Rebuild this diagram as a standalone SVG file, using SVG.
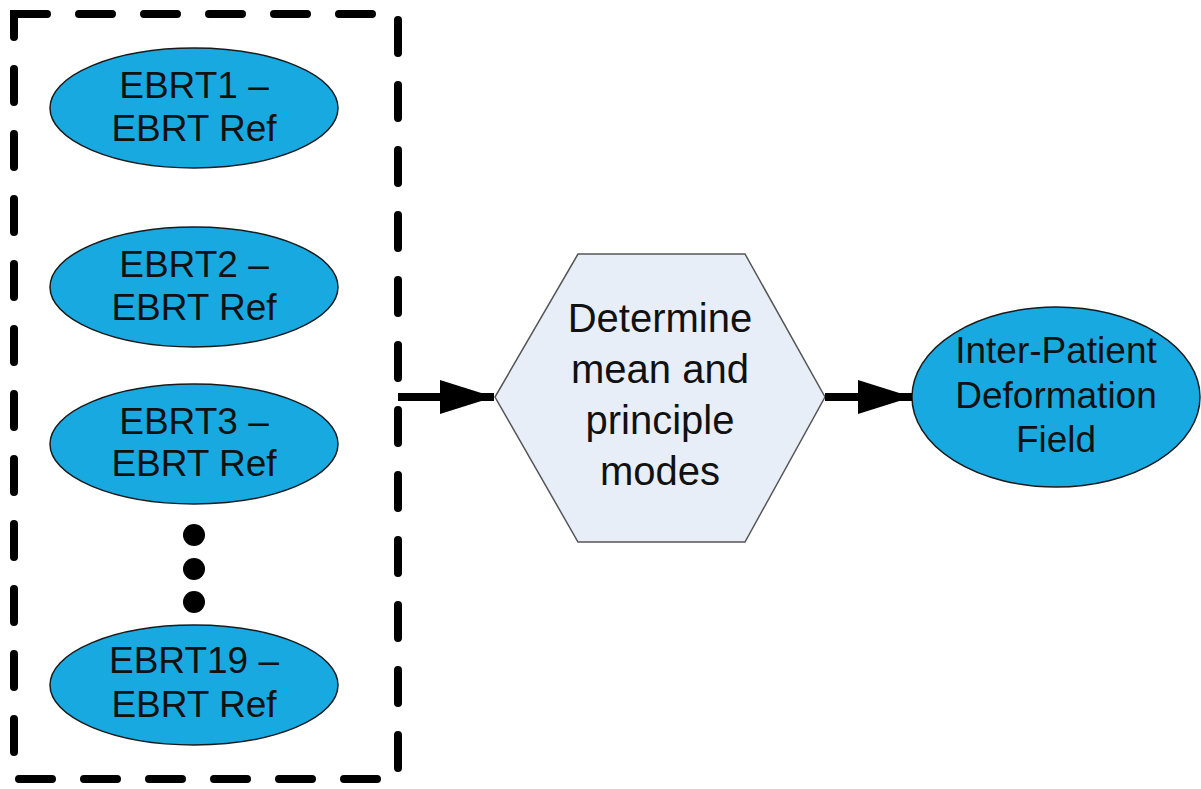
<svg xmlns="http://www.w3.org/2000/svg" width="1201" height="789" viewBox="0 0 1201 789">
  <style>
    .ell { fill: #19a9e1; stroke: #1a1a1a; stroke-width: 1.5; }
    .hex { fill: #e8eef8; stroke: #555555; stroke-width: 1.5; }
    .lbl { font-family: "Liberation Sans", Arial, sans-serif; font-size: 37px; fill: #111111; text-anchor: middle; }
    .big { font-size: 40px; }
    .conn { stroke: #000000; stroke-width: 8; fill: none; }
    .frame { fill: none; stroke: #000000; stroke-width: 8; stroke-linecap: round; stroke-dasharray: 33 32; }
  </style>
  <defs>
    <marker id="arrow" viewBox="0 0 54 34" refX="54" refY="17" markerWidth="54" markerHeight="34" markerUnits="userSpaceOnUse" orient="auto">
      <path d="M0,0 L54,17 L0,34 Z" fill="#000000"/>
    </marker>
  </defs>

  <rect width="1201" height="789" fill="#ffffff"/>

  <!-- dashed group frame -->
  <g id="frame">
    <rect class="frame" x="14" y="14" width="384" height="765"/>
  </g>

  <g id="ebrt1">
    <ellipse class="ell" cx="194" cy="108" rx="144" ry="60"/>
    <text class="lbl" x="194" y="98">EBRT1 –</text>
    <text class="lbl" x="194" y="141">EBRT Ref</text>
  </g>
  <g id="ebrt2">
    <ellipse class="ell" cx="194" cy="287" rx="144" ry="60"/>
    <text class="lbl" x="194" y="277">EBRT2 –</text>
    <text class="lbl" x="194" y="320">EBRT Ref</text>
  </g>
  <g id="ebrt3">
    <ellipse class="ell" cx="194" cy="444" rx="144" ry="60"/>
    <text class="lbl" x="194" y="434">EBRT3 –</text>
    <text class="lbl" x="194" y="476">EBRT Ref</text>
  </g>
  <g id="ellipsis">
    <circle cx="194" cy="535" r="11" fill="#000000"/>
    <circle cx="194" cy="569" r="11" fill="#000000"/>
    <circle cx="194" cy="602" r="11" fill="#000000"/>
  </g>
  <g id="ebrt19">
    <ellipse class="ell" cx="194" cy="685" rx="144" ry="60"/>
    <text class="lbl" x="194" y="673">EBRT19 –</text>
    <text class="lbl" x="194" y="717">EBRT Ref</text>
  </g>

  <g id="determine">
    <polygon class="hex" points="495,397 578,254 745,254 825,397 745,542 578,542"/>
    <text class="lbl big" x="660" y="332">Determine</text>
    <text class="lbl big" x="660" y="383">mean and</text>
    <text class="lbl big" x="660" y="434">principle</text>
    <text class="lbl big" x="660" y="485">modes</text>
  </g>

  <g id="field">
    <ellipse class="ell" cx="1056" cy="397" rx="144" ry="90"/>
    <text class="lbl" x="1056" y="363">Inter-Patient</text>
    <text class="lbl" x="1056" y="408">Deformation</text>
    <text class="lbl" x="1056" y="452">Field</text>
  </g>

  <g id="connectors">
    <path class="conn" d="M398,397 L494,397" marker-end="url(#arrow)"/>
    <path class="conn" d="M825,397 L912,397" marker-end="url(#arrow)"/>
  </g>
</svg>
